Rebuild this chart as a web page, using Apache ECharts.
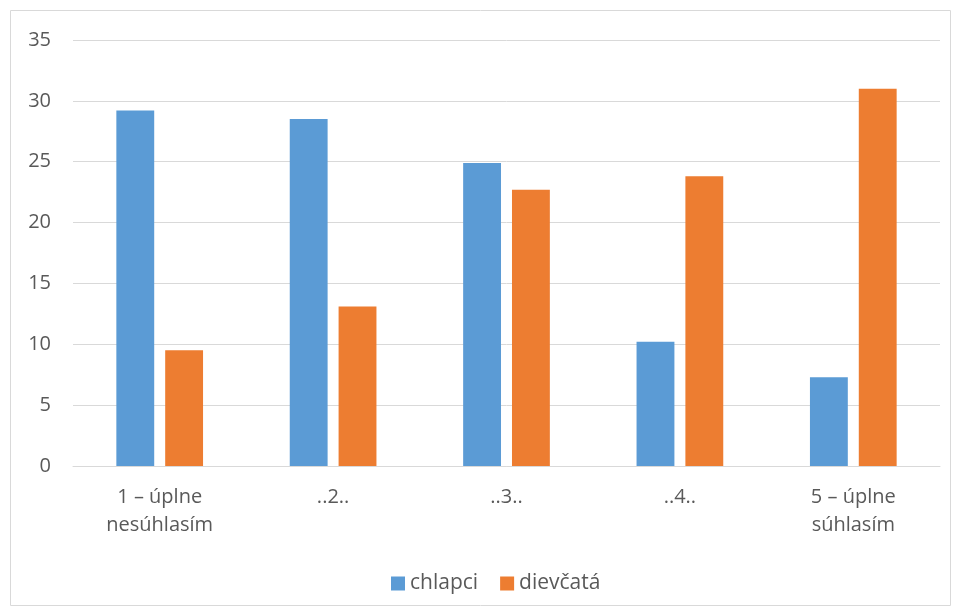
<!DOCTYPE html>
<html><head><meta charset="utf-8">
<script src="https://cdn.jsdelivr.net/npm/echarts@6/dist/echarts.min.js"></script>
<style>html,body{margin:0;padding:0;background:#fff}#c{width:957px;height:612px}</style>
</head><body><div id="c"></div>
<script>
const categories = ['1 – úplne\nnesúhlasím', '..2..', '..3..', '..4..', '5 – úplne\nsúhlasím'];
const chlapci = [29.2, 28.5, 24.9, 10.2, 7.3];
const dievcata = [9.5, 13.1, 22.7, 23.8, 31.0];
const seriesNames = ['chlapci', 'dievčatá'];
const chart = echarts.init(document.getElementById('c'));
const font = '"Open Sans", "Liberation Sans", sans-serif';
chart.setOption({
  animation: false,
  textStyle: {fontFamily: font},
  graphic: [{type: 'rect', shape: {x: 10.5, y: 10.5, width: 940, height: 595}, style: {fill: 'none', stroke: '#d9d9d9', lineWidth: 1}, silent: true}],
  grid: {left: 73, right: 17, top: 40, bottom: 146},
  legend: {data: seriesNames, top: 568, left: 386, padding: 5, itemWidth: 14, itemHeight: 14, itemGap: 22, icon: 'rect',
    textStyle: {fontSize: 21, color: '#595959', fontFamily: font}},
  xAxis: {type: 'category', data: categories,
    axisLine: {lineStyle: {color: '#d9d9d9'}}, axisTick: {show: false},
    axisLabel: {fontSize: 20, color: '#595959', margin: 17, lineHeight: 28, interval: 0, fontFamily: font}},
  yAxis: {type: 'value', min: 0, max: 35, interval: 5,
    axisLine: {show: false}, axisTick: {show: false},
    splitLine: {lineStyle: {color: '#d9d9d9'}},
    axisLabel: {fontSize: 20, color: '#595959', margin: 22, fontFamily: font}},
  series: [
    {name: seriesNames[0], type: 'bar', data: chlapci, itemStyle: {color: '#5b9bd5'}, barGap: '29%', barCategoryGap: '50%'},
    {name: seriesNames[1], type: 'bar', data: dievcata, itemStyle: {color: '#ed7d31'}}
  ]
});
</script></body></html>
